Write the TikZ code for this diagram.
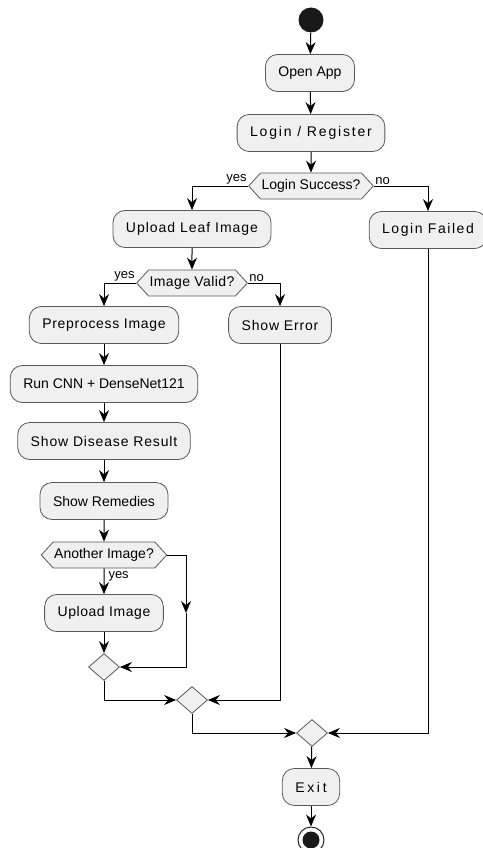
\documentclass[tikz,border=0pt]{standalone}
\usepackage{fontspec}
\setmainfont{Liberation Sans}
\usetikzlibrary{arrows.meta,shapes.geometric,shapes.symbols}
\def\actfont{\fontsize{14}{16}\selectfont}
\def\ls#1{\addfontfeatures{LetterSpace=#1}}

\begin{document}
\begin{tikzpicture}[x=1pt,y=-1pt,line width=1pt,
   >={Stealth[length=12pt,width=10pt,inset=4pt]},
   act/.style={draw=black!65,line width=0.8pt,fill=black!6,rounded corners=12pt,
     minimum height=37pt,inner xsep=13pt,font=\actfont},
   lsp/.style={font=\actfont\ls{#1}},
   test/.style={signal,signal to=west and east,signal pointer angle=95,
     draw=black!65,line width=0.8pt,fill=black!6,minimum height=26pt,inner xsep=1pt,
     font=\actfont},
   merge/.style={diamond,draw=black!65,line width=0.8pt,fill=black!6,aspect=1.15,
     minimum width=31pt,minimum height=27pt,inner sep=0pt},
   lbl/.style={inner sep=1pt,font=\fontsize{13}{15}\selectfont}]
\useasboundingbox (0,0) rectangle (482,848);
% inizio e login
   \node[circle,fill=black!90,minimum size=25pt,inner sep=0pt] (start) at (311,20) {};
   \node[act] (open) at (310,73) {Open App};
   \node[act,lsp=13] (login) at (311,133) {Login / Register};
   \node[test] (lsucc) at (311,186) {Login Success?};
   \node[lbl,anchor=south east] at (lsucc.west) {yes};
   \node[lbl,anchor=south west] at (lsucc.east) {no};
   \node[act,lsp=7] (upleaf) at (192,229) {Upload Leaf Image};
   \node[act,lsp=11] (failed) at (428,230) {Login Failed};
% controllo immagine
   \node[test,lsp=3] (valid) at (192,283) {Image Valid?};
   \node[lbl,anchor=south east] at (valid.west) {yes};
   \node[lbl,anchor=south west] at (valid.east) {no};
   \node[act,lsp=5] (prep) at (104,325) {Preprocess Image};
   \node[act,lsp=6] (err) at (280,325) {Show Error};
   \node[act] (cnn) at (104,384) {Run CNN + DenseNet121};
   \node[act,lsp=6] (result) at (104,441) {Show Disease Result};
   \node[act] (remedy) at (104,501) {Show Remedies};
% altra immagine
   \node[test] (another) at (104,555) {Another Image?};
   \node[act,lsp=4] (upimg) at (104,613) {Upload Image};
   \coordinate (bend) at (186,613);
   \node[merge] (m1) at (104,667) {};
   \node[merge] (m2) at (192,700) {};
   \node[merge] (m3) at (312,733) {};
% fine
   \node[act,lsp=19] (exit) at (311,787) {Exit};
   \node[circle,draw=black!85,fill=white,minimum size=26pt,inner sep=0pt] (stop) at (311,840) {};
   \fill[black!90] (stop.center) circle (8.5);
% frecce
   \draw[->] (start) -- (open);
   \draw[->] (open) -- (login);
   \draw[->] (login) -- (lsucc);
   \draw[->] (lsucc.west) -| (upleaf);
   \draw[->] (lsucc.east) -| (failed);
   \draw[->] (upleaf) -- (valid);
   \draw[->] (valid.west) -| (prep);
   \draw[->] (valid.east) -| (err);
   \draw[->] (prep) -- (cnn);
   \draw[->] (cnn) -- (result);
   \draw[->] (result) -- (remedy);
   \draw[->] (remedy) -- (another);
   \draw[->] (another) -- node[lbl,right=3pt,pos=0.3] {yes} (upimg);
   \draw[->] (another.east) -| (bend);
   \draw[->] (bend) |- (m1);
   \draw[->] (upimg) -- (m1);
   \draw[->] (m1) |- (m2);
   \draw[->] (err) |- (m2);
   \draw[->] (m2) |- (m3);
   \draw[->] (failed) |- (m3);
   \draw[->] (m3) -- (exit);
   \draw[->] (exit) -- (stop);
\end{tikzpicture}
\end{document}
